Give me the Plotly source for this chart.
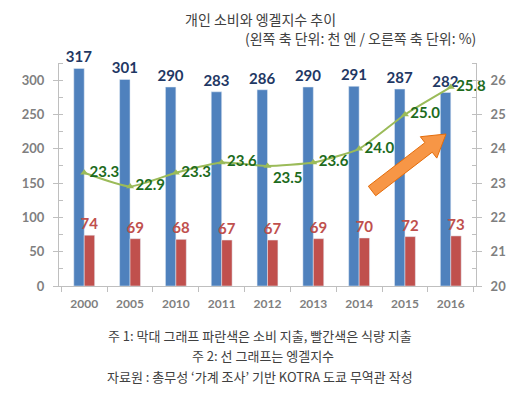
import plotly.graph_objects as go
import math

years = ["2000", "2005", "2010", "2011", "2012", "2013", "2014", "2015", "2016"]
consumption = [317, 301, 290, 283, 286, 290, 291, 287, 282]
food = [74, 69, 68, 67, 67, 69, 70, 72, 73]
engel = [23.3, 22.9, 23.3, 23.6, 23.5, 23.6, 24.0, 25.0, 25.8]
engel_pos = ["middle right"] * 4 + ["bottom right"] + ["middle right"] * 4

title = "개인 소비와 엥겔지수 추이"
subtitle = "(왼쪽 축 단위: 천 엔 / 오른쪽 축 단위: %)"
notes = ["주 1: 막대 그래프 파란색은 소비 지출, 빨간색은 식량 지출",
         "주 2: 선 그래프는 엥겔지수",
         "자료원 : 총무성 ‘가계 조사’ 기반 KOTRA 도쿄 무역관 작성"]

OFF = 8  # page body margin
W, H = 531 - OFF, 399 - OFF
L, R, T, B = 59 - OFF, 55, 63 - OFF, 113
NUM = "Lato, 'Open Sans', sans-serif"
KR = "'Noto Sans CJK KR', sans-serif"
GRAY = "#7f7f7f"
AX = "#bfbfbf"

fig = go.Figure()
fig.add_trace(go.Bar(x=years, y=consumption, marker_color="#4F81BD",
                     text=[str(v) for v in consumption], textposition="outside",
                     textfont=dict(family=NUM, size=15, color="#1F3864", weight="bold"),
                     constraintext="none", cliponaxis=False, name="소비 지출"))
fig.add_trace(go.Bar(x=years, y=food, marker_color="#C0504D",
                     text=[str(v) for v in food], textposition="outside",
                     textfont=dict(family=NUM, size=15, color="#C0504D", weight="bold"),
                     constraintext="none", cliponaxis=False, name="식량 지출"))
fig.add_trace(go.Scatter(x=years, y=engel, yaxis="y2", mode="lines+markers+text",
                         line=dict(color="#9BBB59", width=2, shape="spline", smoothing=0.5),
                         marker=dict(symbol="triangle-up", size=7, color="#9BBB59"),
                         text=[f"{v:.1f}" for v in engel], textposition=engel_pos,
                         textfont=dict(family=NUM, size=15, color="#1D6B1D", weight="bold"),
                         cliponaxis=False, name="엥겔지수"))

pw, ph = W - L - R, H - T - B

def to_paper(p):
    # p given in screenshot pixel coordinates
    x, y = p[0] - OFF, p[1] - OFF
    return ((x - L) / pw, (H - B - y) / ph)

# orange arrow (decoration)
tip = (446, 134)
tail = (372, 191)
dx, dy = tip[0] - tail[0], tip[1] - tail[1]
ln = math.hypot(dx, dy)
ux, uy = dx / ln, dy / ln
nx, ny = -uy, ux
sw, hw, hl = 6, 13.5, 22
neck = (tip[0] - ux * hl, tip[1] - uy * hl)
pts = [
    (tail[0] + nx * sw, tail[1] + ny * sw),
    (neck[0] + nx * sw, neck[1] + ny * sw),
    (neck[0] + nx * hw, neck[1] + ny * hw),
    tip,
    (neck[0] - nx * hw, neck[1] - ny * hw),
    (neck[0] - nx * sw, neck[1] - ny * sw),
    (tail[0] - nx * sw, tail[1] - ny * sw),
]
path = "M " + " L ".join("{:.4f},{:.4f}".format(*to_paper(p)) for p in pts) + " Z"
fig.add_shape(type="path", path=path, xref="paper", yref="paper",
              fillcolor="#F79646", line=dict(color="#E46C0A", width=1))

# title: anchored at the very top of the figure so it is not clipped
tx, _ = to_paper((260, 0))
fig.add_annotation(text=title, x=tx, y=1 + T / ph, xref="paper", yref="paper",
                   showarrow=False, xanchor="center", yanchor="top", borderpad=0,
                   font=dict(family=KR, size=14, color="#404040"))

ann = [
    (subtitle, 360, 38, 14),
    (notes[0], 260, 335, 13),
    (notes[1], 263, 355, 13),
    (notes[2], 260, 376, 13),
]
for text, x, y, s in ann:
    px, py = to_paper((x, y))
    fig.add_annotation(text=text, x=px, y=py, xref="paper", yref="paper",
                       showarrow=False, xanchor="center", yanchor="middle",
                       font=dict(family=KR, size=s, color="#404040"))

fig.update_layout(
    width=W, height=H, margin=dict(l=L, r=R, t=T, b=B),
    paper_bgcolor="white", plot_bgcolor="white",
    barmode="group", bargap=0.545, bargroupgap=0,
    showlegend=False,
    xaxis=dict(type="category", showline=True, linecolor=AX, linewidth=1,
               ticks="outside", tickson="boundaries", ticklen=5, tickcolor=AX,
               ticklabelstandoff=7,
               tickfont=dict(family=NUM, size=12, color=GRAY, weight="bold"),
               showgrid=False, zeroline=False),
    yaxis=dict(range=[0, 325], dtick=50, tick0=0, showline=True, linecolor=AX,
               ticks="outside", ticklen=5, tickcolor=AX, ticklabelstandoff=6,
               minor=dict(dtick=25, ticks="inside", ticklen=4, tickcolor=AX),
               tickfont=dict(family=NUM, size=13, color=GRAY, weight="bold"),
               showgrid=False, zeroline=False),
    yaxis2=dict(range=[20, 26.5], dtick=1, tick0=20, overlaying="y", side="right",
                showline=True, linecolor=AX, ticks="outside", ticklen=5, tickcolor=AX,
                ticklabelstandoff=6,
                minor=dict(dtick=0.5, ticks="inside", ticklen=4, tickcolor=AX),
                tickfont=dict(family=NUM, size=13, color=GRAY, weight="bold"),
                showgrid=False, zeroline=False),
)

fig.write_html("out.html")
